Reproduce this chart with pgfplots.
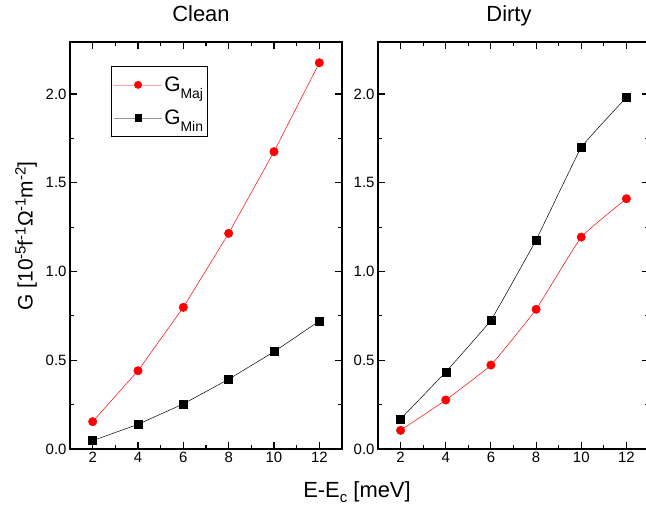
\documentclass[border=0pt]{standalone}
\usepackage{pgfplots}
\pgfplotsset{compat=1.18}
\usepackage{fontspec}
\setmainfont{Liberation Sans}

\pgfplotsset{
  panel/.style={
    scale only axis, height=407bp,
    xmin=1, xmax=13, ymin=0, ymax=2.293,
    xtick={2,4,6,8,10,12}, ytick={0,0.5,1,1.5,2},
    minor x tick num=1, minor y tick num=1,
    tick align=inside, xticklabel pos=lower, yticklabel pos=left,
    major tick length=7bp, minor tick length=4bp,
    axis line style={line width=1.3pt},
    tick style={black, line width=1.1pt},
    y tick label style={/pgf/number format/.cd, fixed, fixed zerofill, precision=1},
    tick label style={font=\fontsize{15}{15}\selectfont},
    /pgf/number format/assume math mode=true,
    clip=false,
  },
  majline/.style={red, line width=0.5pt, mark=*, mark size=4.2bp, mark options={solid, fill=red, draw=red}},
  minline/.style={black, line width=0.5pt, mark=square*, mark size=4bp, mark options={solid, fill=black}},
}
\newcommand{\legtext}[1]{\fontsize{21}{21}\selectfont G\raisebox{-7bp}{\fontsize{14}{14}\selectfont #1}}

\begin{document}
\begin{tikzpicture}

% Clean
\begin{axis}[panel, width=272bp, at={(70bp,59bp)}, anchor=south west,
    legend style={at={(rel axis cs:0.152,0.94)}, anchor=north west, draw=black,
      line width=0.8pt, fill=white,
      row sep=13bp, inner xsep=2bp, inner ysep=8bp, cells={anchor=west}},
    legend image code/.code={\draw[mark repeat=2, mark phase=2, #1] plot coordinates {(0bp,0bp) (24bp,0bp) (48bp,0bp)};},
]
\addlegendimage{red!35, line width=0.6pt, mark=*, mark size=3.6bp, mark options={fill=red, draw=red}}
\addlegendimage{black!40, line width=0.6pt, mark=square*, mark size=3.2bp, mark options={fill=black, draw=black}}
\addplot[majline, forget plot] coordinates {(2,0.154)(4,0.441)(6,0.798)(8,1.215)(10,1.675)(12,2.176)};
\addplot[minline, forget plot] coordinates {(2,0.047)(4,0.139)(6,0.254)(8,0.393)(10,0.548)(12,0.721)};
\legend{\legtext{Maj}, \legtext{Min}}
\end{axis}

% Dirty
\begin{axis}[panel, width=271bp, at={(378bp,59bp)}, anchor=south west]
\addplot[minline, smooth, tension=0.12] coordinates {(2,0.169)(4,0.434)(6,0.725)(8,1.177)(10,1.700)(12,1.981)};
\addplot[majline, smooth, tension=0.2] coordinates {(2,0.105)(4,0.276)(6,0.473)(8,0.787)(10,1.194)(12,1.410)};
\end{axis}

\node[anchor=base, font=\fontsize{22}{22}\selectfont] at (201bp,486bp) {Clean};
\node[anchor=base, font=\fontsize{22}{22}\selectfont] at (509bp,486bp) {Dirty};
\node[rotate=90, font=\fontsize{21}{21}\selectfont] at (26bp,272bp)
  {G [10\raisebox{7bp}{\fontsize{15}{15}\selectfont -5}f\raisebox{7bp}{\fontsize{15}{15}\selectfont -1}Ω\raisebox{7bp}{\fontsize{15}{15}\selectfont -1}m\raisebox{7bp}{\fontsize{15}{15}\selectfont -2}]};
\node[anchor=base, font=\fontsize{22}{22}\selectfont] at (357bp,11bp)
  {E-E\raisebox{-5bp}{\fontsize{15}{15}\selectfont c} [meV]};

\pgfresetboundingbox
\path[use as bounding box] (0,0) rectangle (646bp,508bp);
\end{tikzpicture}
\end{document}
